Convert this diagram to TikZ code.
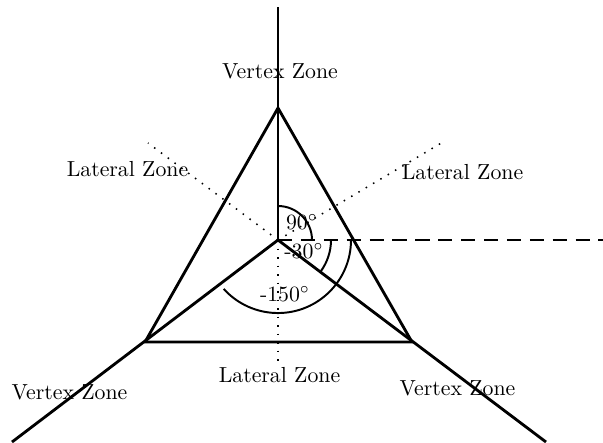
\documentclass[tikz,border=0pt]{standalone}
\usepackage{tikz}
\usetikzlibrary{calc}

\begin{document}
\begin{tikzpicture}[
    x=0.4587pt,y=0.4587pt,
    ray/.style={line width=1.3pt,line join=miter},
    guide/.style={line width=0.7pt,dash pattern=on 0.7pt off 3.2pt},
    cut/.style={line width=1.3pt,dash pattern=on 6.5pt off 4pt},
    arcline/.style={line width=0.9pt},
    zone/.style={inner sep=0pt,font=\normalsize},
    ang/.style={inner sep=0pt,font=\normalsize}
  ]
    \useasboundingbox (0,-442) rectangle (603,0);

    \coordinate (O) at (278,-240);
    \coordinate (A) at (278,-108);
    \coordinate (B) at (145,-342);
    \coordinate (C) at (412,-342);
    \coordinate (Aout) at (278,-7);
    \coordinate (Bout) at (12,-442);
    \coordinate (Cout) at (546,-442);
    \coordinate (L1) at (148,-143);
    \coordinate (L2) at (443,-142);
    \coordinate (L3) at (278,-364);
    \coordinate (E) at (603,-240);

    \draw[ray] (A) -- (B) -- (C) -- cycle;
    \draw[ray] (O) -- (Aout);
    \draw[ray] (O) -- (Bout);
    \draw[ray] (O) -- (Cout);

    \draw[guide] (O) -- (L1);
    \draw[guide] (O) -- (L2);
    \draw[guide] (O) -- (L3);
    \draw[cut] (O) -- (E);

    \draw[arcline] ($(O)+(34,0)$) arc[start angle=0,end angle=90,radius=15.6pt];
    \draw[arcline] ($(O)+(53,0)$) arc[start angle=0,end angle=-36,radius=24.3pt];
    \draw[arcline] ($(O)+(73,0)$) arc[start angle=0,end angle=-138,radius=33.5pt];

    \node[ang] (a90) at (302,-222) {90$^\circ$};
    \node[ang] (a30) at (304,-251) {-30$^\circ$};
    \node[ang] (a150) at (285,-294) {-150$^\circ$};

    \node[zone] (vtop) at (280,-71) {Vertex Zone};
    \node[zone] (vleft) at (69.5,-392) {Vertex Zone};
    \node[zone] (vright) at (457.5,-388) {Vertex Zone};
    \node[zone] (ltopl) at (127.5,-169) {Lateral Zone};
    \node[zone] (ltopr) at (462.5,-172) {Lateral Zone};
    \node[zone] (lbot) at (279.5,-375) {Lateral Zone};
  \end{tikzpicture}
\end{document}
